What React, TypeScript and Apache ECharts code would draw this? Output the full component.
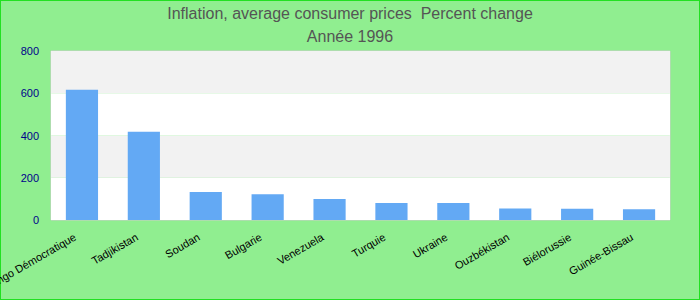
import React, { useEffect, useRef } from "react";
import * as echarts from "echarts";

const categories = [
  "Congo Démocratique",
  "Tadjikistan",
  "Soudan",
  "Bulgarie",
  "Venezuela",
  "Turquie",
  "Ukraine",
  "Ouzbékistan",
  "Biélorussie",
  "Guinée-Bissau",
];
const values = [617, 418, 133, 122, 100, 80, 80, 54, 53, 51];
const titleText = "Inflation, average consumer prices  Percent change";
const subtitleText = "Année 1996";

export default function App() {
  const ref = useRef<HTMLDivElement>(null);
  useEffect(() => {
    document.body.style.margin = "0";
    const chart = echarts.init(ref.current!, null, { renderer: "svg" });
    chart.setOption({
      animation: false,
      backgroundColor: "transparent",
      title: [
        {
          text: titleText,
          left: "center",
          top: 0,
          textStyle: { fontFamily: "Liberation Sans, Arial", fontSize: 16, fontWeight: "normal", color: "#555555" },
        },
        {
          text: subtitleText,
          left: "center",
          top: 23,
          textStyle: { fontFamily: "Liberation Sans, Arial", fontSize: 16, fontWeight: "normal", color: "#555555" },
        },
      ],
      grid: {
        left: 51,
        right: 30,
        top: 51,
        bottom: 80,
        containLabel: false,
        outerBoundsMode: "none",
        show: true,
        borderColor: "#cccccc",
        borderWidth: 1,
        backgroundColor: "transparent",
      },
      xAxis: {
        type: "category",
        data: categories,
        axisLine: { show: false },
        axisTick: { show: false },
        axisLabel: {
          rotate: 30,
          interval: 0,
          fontFamily: "Liberation Sans, Arial",
          fontSize: 11,
          color: "#000000",
          margin: 12,
          padding: [0, 8, 0, 0],
        },
      },
      yAxis: {
        type: "value",
        min: 0,
        max: 800,
        interval: 200,
        axisLine: { show: false },
        axisTick: { show: false },
        splitLine: { show: false },
        splitArea: { show: true, areaStyle: { color: ["#ffffff", "#f2f2f2"] } },
        axisLabel: {
          fontFamily: "Liberation Sans, Arial",
          fontSize: 11,
          color: "#00008b",
          margin: 12,
        },
      },
      series: [
        {
          type: "bar",
          data: values,
          barWidth: "52%",
          itemStyle: { color: "#63a9f4" },
        },
      ],
    });
    return () => chart.dispose();
  }, []);
  return (
    <div
      style={{
        width: 700,
        height: 300,
        boxSizing: "border-box",
        border: "1px solid #22e022",
        background: "#90ee90",
        position: "relative",
      }}
    >
      <div ref={ref} style={{ position: "absolute", left: -1, top: -1, width: 700, height: 300 }} />
    </div>
  );
}
